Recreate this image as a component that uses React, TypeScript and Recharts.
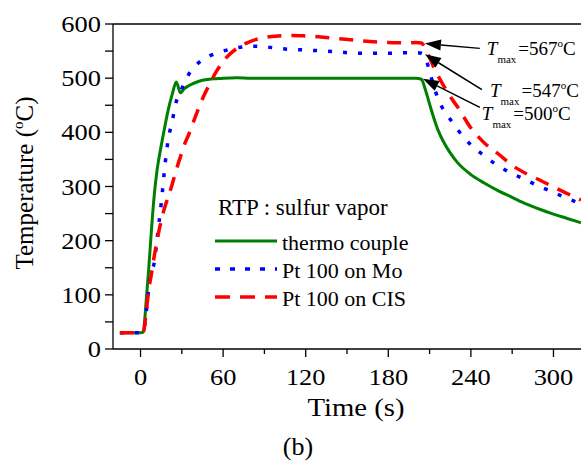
import { LineChart, Line, XAxis, YAxis, ReferenceLine, Legend } from "recharts";

// time axis (s) shared by all three traces
const time = [
  -15, 0, 2, 4, 6, 8, 10, 12, 15, 18,
  20, 23, 26, 29, 32, 35, 40, 45, 50, 55,
  60, 70, 80, 90, 100, 110, 120, 140, 160, 180,
  195, 200, 204, 207, 210, 213, 216, 220, 225, 230,
  240, 250, 260, 270, 280, 290, 300, 310, 320,
];

const thermoCouple = [
  30, 30, 31, 85, 150, 222, 285, 330, 375, 415,
  440, 470, 493, 473, 481, 486, 492, 496, 498, 499,
  500, 501, 500, 500, 500, 500, 500, 500, 500, 500,
  500, 500, 498, 478, 452, 427, 405, 383, 362, 345,
  322, 306, 292, 280, 268, 258, 249, 241, 233,
];

const ptOnMo = [
  30, 30, 31, 65, 112, 142, 160, 203, 268, 345,
  385, 420, 457, 475, 492, 507, 523, 534, 541, 546,
  550, 556, 559, 558, 555, 553, 552, 549, 546, 546,
  547, 547, 546, 538, 512, 486, 463, 442, 424, 406,
  377, 356, 338, 324, 312, 300, 289, 278, 268,
];

const ptOnCis = [
  30, 30, 31, 65, 110, 140, 172, 200, 237, 265,
  280, 304, 331, 355, 378, 396, 430, 462, 488, 512,
  531, 555, 568, 575, 578, 579, 578, 574, 569, 566,
  565, 566, 565, 555, 538, 520, 505, 487, 466, 448,
  408, 380, 360, 339, 324, 312, 299, 287, 275,
];

const xTicks = [0, 30, 60, 90, 120, 150, 180, 210, 240, 270, 300];
const yTicks = [0, 50, 100, 150, 200, 250, 300, 350, 400, 450, 500, 550, 600];

// T max annotations: label, arrow tail and arrow tip in data units
const tmaxLabels = ["567", "547", "500"];
const arrowTails = [
  [246.5, 555],
  [248, 479],
  [246.5, 446],
];
const arrowTips = [
  [206.6, 564],
  [206.6, 544],
  [205.1, 499],
];
// text offset from arrow tail, px
const labelOffsets = [
  [7, 7],
  [8, 7],
  [2, 13],
];

const data = time.map((t, i) => ({
  t,
  thermo: thermoCouple[i],
  mo: ptOnMo[i],
  cis: ptOnCis[i],
}));

const SERIF = '"Liberation Serif", "Times New Roman", serif';

const series = [
  { key: "thermo", name: "thermo couple", color: "#008000", dash: undefined, width: 3 },
  { key: "mo", name: "Pt 100 on Mo", color: "#0000ff", dash: "4 11", width: 3.5 },
  { key: "cis", name: "Pt 100 on CIS", color: "#ff0000", dash: "14 10", width: 3.5 },
];

function BottomTick({ x, y, payload }: any) {
  const v = payload.value;
  const major = v % 60 === 0;
  return (
    <g>
      <line x1={x} y1={y} x2={x} y2={y + (major ? 8 : 5)} stroke="#000" strokeWidth={1.3} />
      {major && (
        <text
          transform={`translate(${x},${y + 36}) scale(1.15,1)`}
          textAnchor="middle"
          fontFamily={SERIF}
          fontSize={23}
          fill="#000"
        >
          {v}
        </text>
      )}
    </g>
  );
}

function LeftTick({ x, y, payload }: any) {
  const v = payload.value;
  if (v % 100 !== 0) return <g />;
  return (
    <text
      transform={`translate(${x},${y + 8}) scale(1.15,1)`}
      textAnchor="end"
      fontFamily={SERIF}
      fontSize={23}
      fill="#000"
    >
      {v}
    </text>
  );
}

function Arrow(props: any) {
  const { x1, y1, x2, y2, idx } = props;
  const dx = x2 - x1;
  const dy = y2 - y1;
  const len = Math.sqrt(dx * dx + dy * dy);
  const ux = dx / len;
  const uy = dy / len;
  const hl = 16;
  const hw = 5.5;
  const bx = x2 - ux * hl;
  const by = y2 - uy * hl;
  const [ox, oy] = labelOffsets[idx];
  const tx = x1 + ox;
  const ty = y1 + oy;
  return (
    <g>
      <line x1={x1} y1={y1} x2={bx} y2={by} stroke="#000" strokeWidth={1.5} />
      <polygon
        points={`${x2},${y2} ${bx - uy * hw},${by + ux * hw} ${bx + uy * hw},${by - ux * hw}`}
        fill="#000"
      />
      <text x={tx} y={ty} fontFamily={SERIF} fontSize={19} fill="#000">
        <tspan fontStyle="italic">T</tspan>
        <tspan fontSize={11} dy={8}>
          max
        </tspan>
        <tspan dy={-8} dx={2}>
          ={tmaxLabels[idx]}
        </tspan>
        <tspan fontSize={11} dy={-8}>
          o
        </tspan>
        <tspan dy={8}>C</tspan>
      </text>
    </g>
  );
}

function LegendBox() {
  return (
    <svg width={210} height={115} style={{ display: "block" }}>
      <text x={3} y={19} fontFamily={SERIF} fontSize={23} fill="#000">
        RTP : sulfur vapor
      </text>
      {series.map((s, i) => (
        <g key={s.key}>
          <line
            x1={0}
            x2={62}
            y1={45 + 28 * i}
            y2={45 + 28 * i}
            stroke={s.color}
            strokeWidth={s.width}
            strokeDasharray={s.key === "mo" ? "5 10" : s.key === "cis" ? "15 10" : undefined}
          />
          <text x={67} y={54 + 28 * i} fontFamily={SERIF} fontSize={22} fill="#000">
            {s.name}
          </text>
        </g>
      ))}
    </svg>
  );
}

const axisStroke = { stroke: "#000", strokeWidth: 1.3 };

export default function App() {
  return (
    <div style={{ position: "absolute", left: 0, top: 0, width: 583, height: 465, background: "#fff" }}>
      <LineChart width={583} height={465} data={data} margin={{ top: 0, right: 2, bottom: 56, left: 53 }}>
        <XAxis
          dataKey="t"
          type="number"
          domain={[-20, 320]}
          ticks={xTicks}
          interval={0}
          allowDataOverflow
          height={60}
          tickSize={0}
          tickMargin={0}
          tickLine={false}
          axisLine={axisStroke}
          tick={<BottomTick />}
          label={{
            content: () => (
              <g>
                <text
                  transform="translate(356,416) scale(1.15,1)"
                  textAnchor="middle"
                  fontFamily={SERIF}
                  fontSize={25}
                  fill="#000"
                >
                  Time (s)
                </text>
                <text x={298} y={455} textAnchor="middle" fontFamily={SERIF} fontSize={26} fill="#000">
                  (b)
                </text>
              </g>
            ),
          }}
        />
        <XAxis
          xAxisId="top"
          orientation="top"
          type="number"
          domain={[-20, 320]}
          ticks={xTicks}
          interval={0}
          height={24}
          tick={false}
          tickSize={3}
          tickLine={axisStroke}
          axisLine={axisStroke}
        />
        <YAxis
          type="number"
          domain={[0, 600]}
          ticks={yTicks}
          interval={0}
          width={60}
          tickSize={8}
          tickMargin={4}
          tickLine={axisStroke}
          axisLine={axisStroke}
          tick={<LeftTick />}
          label={{
            content: () => (
              <text
                transform="translate(33,183) rotate(-90)"
                textAnchor="middle"
                fontFamily={SERIF}
                fontSize={25}
                fill="#000"
              >
                Temperature (
                <tspan fontSize={15} dy={-10}>
                  o
                </tspan>
                <tspan dy={10}>C)</tspan>
              </text>
            ),
          }}
        />
        <YAxis
          yAxisId="right"
          orientation="right"
          mirror
          type="number"
          domain={[0, 600]}
          ticks={yTicks}
          interval={0}
          width={0}
          tick={false}
          tickSize={7}
          tickLine={axisStroke}
          axisLine={axisStroke}
        />
        {series.map((s) => (
          <Line
            key={s.key}
            type="monotone"
            dataKey={s.key}
            name={s.name}
            stroke={s.color}
            strokeWidth={s.width}
            strokeDasharray={s.dash}
            dot={false}
            activeDot={false}
            isAnimationActive={false}
          />
        ))}
        {tmaxLabels.map((lbl, i) => (
          <ReferenceLine
            key={lbl}
            ifOverflow="visible"
            segment={[
              { x: arrowTails[i][0], y: arrowTails[i][1] },
              { x: arrowTips[i][0], y: arrowTips[i][1] },
            ]}
            shape={(p: any) => <Arrow {...p} idx={i} />}
          />
        ))}
        <Legend
          layout="vertical"
          align="center"
          verticalAlign="middle"
          wrapperStyle={{ left: 215, top: 196, width: 210, height: 115 }}
          content={() => <LegendBox />}
        />
      </LineChart>
    </div>
  );
}
